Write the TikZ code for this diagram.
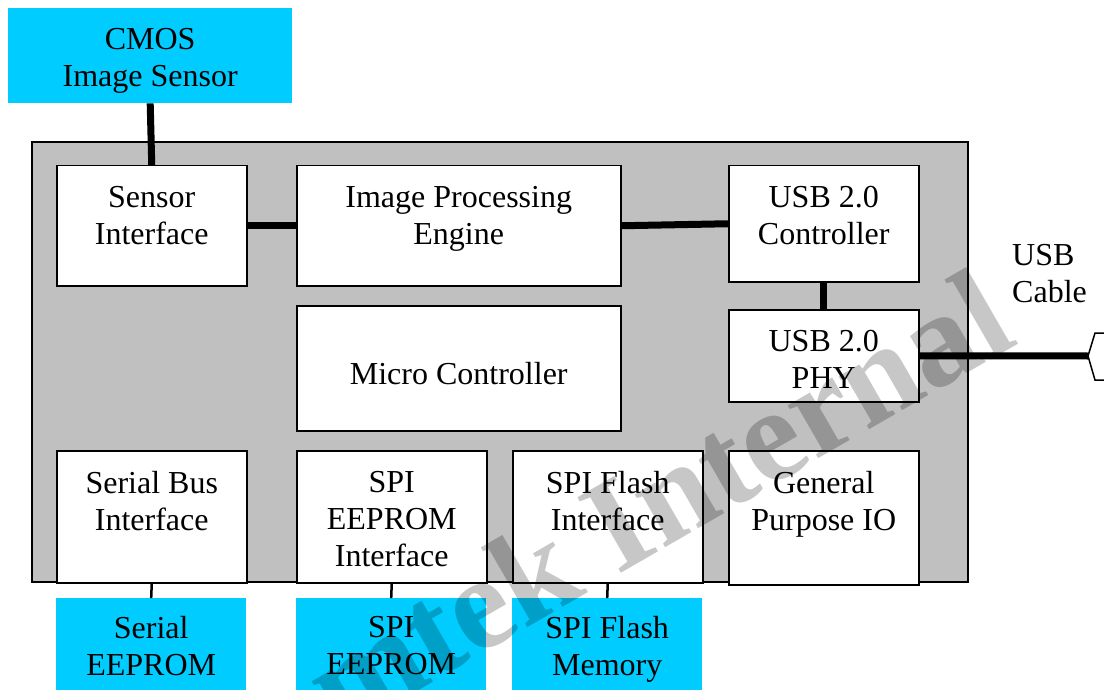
\documentclass[tikz,border=0pt]{standalone}
\usepackage{fontspec}
\setmainfont{Liberation Serif}
\usepackage{xcolor}
\usepackage{tikz}
\usetikzlibrary{positioning}

\definecolor{extcyan}{HTML}{00CCFF}
\definecolor{chipgray}{HTML}{C0C0C0}

\begin{document}
\begin{tikzpicture}[
  x=1pt,
  y=-1pt,
  font=\fontsize{32}{37}\selectfont,
  chip/.style={draw, fill=chipgray, line width=1.5pt},
  blk/.style={draw, fill=white, line width=1.5pt, anchor=north west,
    inner sep=0pt, align=center},
  ext/.style={fill=extcyan, anchor=north west, inner sep=0pt, align=center},
  lbl/.style={align=center, inner sep=0pt},
  bus/.style={line width=7pt},
  pin/.style={line width=2.5pt},
  wmark/.style={text=black, text opacity=0.22,
    font=\fontsize{133}{133}\bfseries\selectfont}
]
  \useasboundingbox (0,0) rectangle (1104,690);
  \clip (0,0) rectangle (1104,690);

  % outside parts
  \node[ext, minimum width=284pt, minimum height=95pt] (cmos) at (8,8) {};
  \node[lbl, below=20pt of cmos.north] (cmostxt) {CMOS\\Image Sensor};

  % the chip
  \draw[chip] (32,142) rectangle (968,582);

  \node[blk, minimum width=190pt, minimum height=120pt] (sensif) at (56,165) {};
  \node[blk, minimum width=324pt, minimum height=120pt] (ipe) at (296,165) {};
  \node[blk, minimum width=190pt, minimum height=116pt] (usbc) at (728,165) {};
  \node[blk, minimum width=324pt, minimum height=125pt] (mcu) at (296,305) {};
  \node[blk, minimum width=190pt, minimum height=92pt] (phy) at (728,309) {};
  \node[blk, minimum width=190pt, minimum height=132pt] (serif) at (56,450) {};
  \node[blk, minimum width=190pt, minimum height=132pt] (spiif) at (296,450) {};
  \node[blk, minimum width=190pt, minimum height=132pt] (flashif) at (512,450) {};
  \node[blk, minimum width=190pt, minimum height=134pt] (gpio) at (728,450) {};

  \node[lbl, below=21pt of sensif.north] (sensiftxt) {Sensor\\Interface};
  \node[lbl, below=21pt of ipe.north] (ipetxt) {Image Processing\\Engine};
  \node[lbl, below=21pt of usbc.north] (usbctxt) {USB 2.0\\Controller};
  \node[lbl, below=57pt of mcu.north] (mcutxt) {Micro Controller};
  \node[lbl, below=21pt of phy.north] (phytxt) {USB 2.0\\PHY};
  \node[lbl, below=21pt of serif.north] (seriftxt) {Serial Bus\\Interface};
  \node[lbl, below=21pt of spiif.north] (spiiftxt) {SPI\\EEPROM\\Interface};
  \node[lbl, below=21pt of flashif.north] (flashiftxt) {SPI Flash\\Interface};
  \node[lbl, below=21pt of gpio.north] (gpiotxt) {General\\Purpose IO};

  % memories below the chip
  \node[ext, minimum width=190pt, minimum height=92pt] (seeprom) at (56,598) {};
  \node[ext, minimum width=190pt, minimum height=92pt] (spieeprom) at (296,598) {};
  \node[ext, minimum width=190pt, minimum height=92pt] (flashmem) at (512,598) {};
  \node[lbl, below=18pt of seeprom.north] (seepromtxt) {Serial\\EEPROM};
  \node[lbl, below=18pt of spieeprom.north] (spieepromtxt) {SPI\\EEPROM};
  \node[lbl, below=18pt of flashmem.north] (flashmemtxt) {SPI Flash\\Memory};

  % cable
  \node[lbl, anchor=west, align=left] (cable) at (1012,274) {USB\\Cable};
  \coordinate (plug) at (1088,356);
  \draw[line width=1.5pt] (1104,333) -- (1095,333) -- (plug) -- (1095,380) -- (1104,380);

  % links
  \draw[bus] (cmos.south) -- (sensif.north);
  \draw[bus] (sensif.east) -- (ipe.west);
  \draw[bus] (ipe.east) -- (usbc.west);
  \draw[bus] (usbc.south) -- (phy.north);
  \draw[bus] (phy.east) -- (plug);
  \draw[pin] (serif.south) -- (seeprom.north);
  \draw[pin] (spiif.south) -- (spieeprom.north);
  \draw[pin] (flashif.south) -- (flashmem.north);

  \node[wmark, rotate=30] (wm) at (657,500) {mtek Internal};
\end{tikzpicture}
\end{document}
